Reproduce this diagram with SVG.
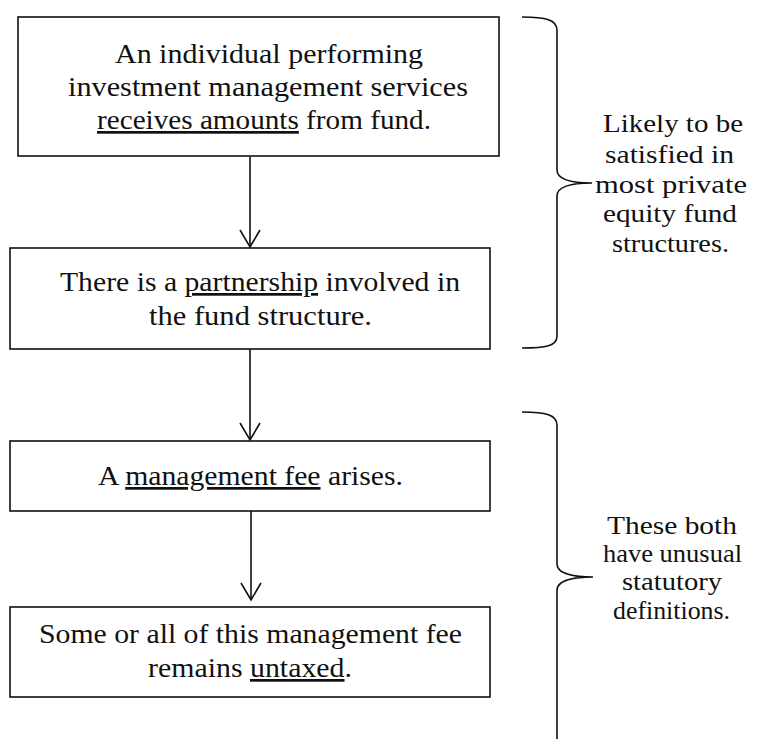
<svg xmlns="http://www.w3.org/2000/svg" width="761" height="739" viewBox="0 0 761 739">
<style>
.box{fill:#fff;stroke:#111;stroke-width:1.6}
.t{font-family:"Liberation Serif","Times New Roman",serif;font-size:27px;fill:#111;text-anchor:middle}
.s{font-family:"Liberation Serif","Times New Roman",serif;font-size:26px;fill:#111;text-anchor:middle}
.u{text-decoration:underline}
.ln{fill:none;stroke:#111;stroke-width:1.6}
</style>
<defs>
<marker id="arr" markerWidth="24" markerHeight="24" viewBox="-12 -20 24 24" refX="0" refY="0" orient="auto-start-reverse" markerUnits="userSpaceOnUse">
<path d="M-10,-17 L0,0 L10,-17" fill="none" stroke="#111" stroke-width="1.6"/>
</marker>
</defs>
<rect width="761" height="739" fill="#fff"/>
<g id="connectors">
<line class="ln" x1="250" y1="157" x2="250" y2="247"/>
<path class="ln" d="M240,230 L250,247 L260,230"/>
<line class="ln" x1="250" y1="349" x2="250" y2="440"/>
<path class="ln" d="M240,423 L250,440 L260,423"/>
<line class="ln" x1="251" y1="511" x2="251" y2="600"/>
<path class="ln" d="M241,583 L251,600 L261,583"/>
</g>
<g id="node1">
<rect class="box" x="18" y="17" width="481" height="139"/>
<text class="t" x="269" y="63" textLength="308" lengthAdjust="spacingAndGlyphs">An individual performing</text>
<text class="t" x="268" y="96" textLength="400" lengthAdjust="spacingAndGlyphs">investment management services</text>
<text class="t" x="264" y="129" textLength="334" lengthAdjust="spacingAndGlyphs"><tspan class="u">receives amounts</tspan> from fund.</text>
</g>
<g id="node2">
<rect class="box" x="10" y="248" width="480" height="101"/>
<text class="t" x="260" y="291" textLength="400" lengthAdjust="spacingAndGlyphs">There is a <tspan class="u">partnership</tspan> involved in</text>
<text class="t" x="260.5" y="325" textLength="223" lengthAdjust="spacingAndGlyphs">the fund structure.</text>
</g>
<g id="node3">
<rect class="box" x="10" y="441" width="480" height="70"/>
<text class="t" x="250.5" y="485" textLength="305" lengthAdjust="spacingAndGlyphs">A <tspan class="u">management fee</tspan> arises.</text>
</g>
<g id="node4">
<rect class="box" x="10" y="607" width="480" height="90"/>
<text class="t" x="250.5" y="643" textLength="423" lengthAdjust="spacingAndGlyphs">Some or all of this management fee</text>
<text class="t" x="250" y="677" textLength="204" lengthAdjust="spacingAndGlyphs">remains <tspan class="u">untaxed</tspan>.</text>
</g>
<g id="brace1">
<path class="ln" d="M522,17 C546,17 557,20 557,30 L557,170 C557,180 574,183 592,183 C574,183 557,186 557,196 L557,336 C557,346 546,348 522,348"/>
<text class="s" x="673" y="132" textLength="140" lengthAdjust="spacingAndGlyphs">Likely to be</text>
<text class="s" x="669.5" y="163" textLength="129" lengthAdjust="spacingAndGlyphs">satisfied in</text>
<text class="s" x="671" y="193" textLength="152" lengthAdjust="spacingAndGlyphs">most private</text>
<text class="s" x="670" y="222" textLength="134" lengthAdjust="spacingAndGlyphs">equity fund</text>
<text class="s" x="670.5" y="252" textLength="117" lengthAdjust="spacingAndGlyphs">structures.</text>
</g>
<g id="brace2">
<path class="ln" d="M522,412 C546,412 557,415 557,425 L557,564 C557,574 575,577 593,577 C575,577 557,580 557,590 L557,745"/>
<text class="s" x="672" y="534" textLength="130" lengthAdjust="spacingAndGlyphs">These both</text>
<text class="s" x="672.5" y="562" textLength="139" lengthAdjust="spacingAndGlyphs">have unusual</text>
<text class="s" x="672" y="590" textLength="100" lengthAdjust="spacingAndGlyphs">statutory</text>
<text class="s" x="671.5" y="619" textLength="117" lengthAdjust="spacingAndGlyphs">definitions.</text>
</g>
</svg>
